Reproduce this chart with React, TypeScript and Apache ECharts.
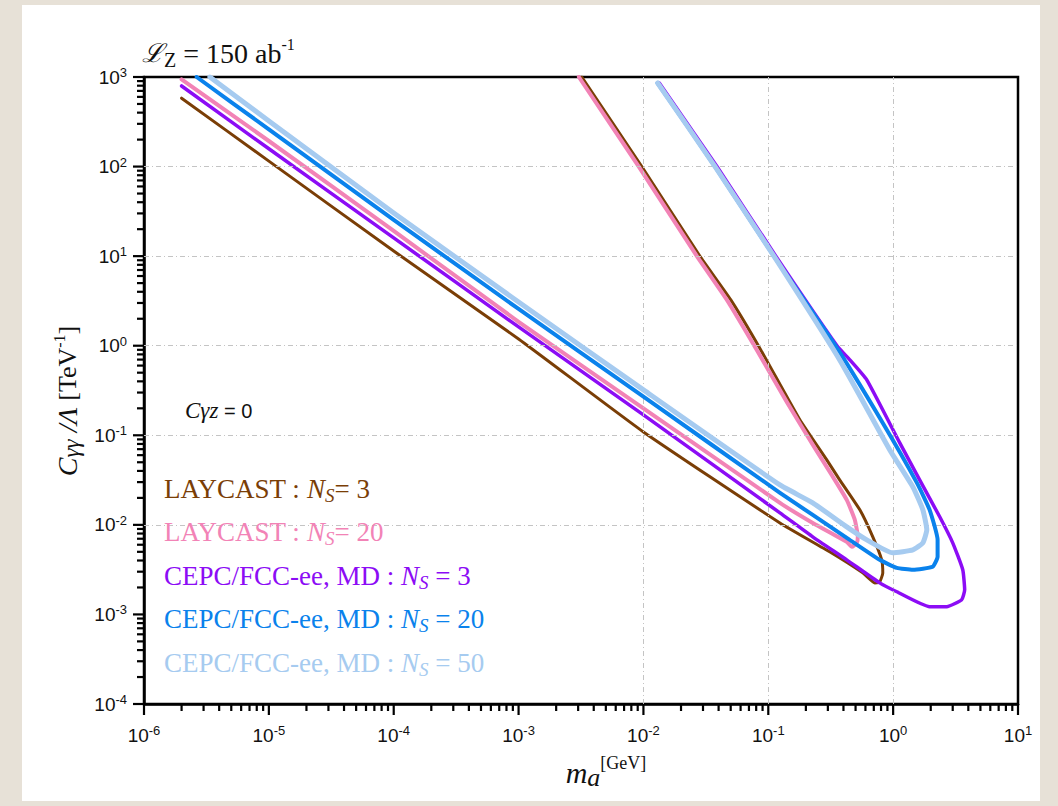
import React, { useEffect, useRef } from 'react';
import * as echarts from 'echarts';

// ---- axis decades ----
const xDecades = [1e-6, 1e-5, 1e-4, 1e-3, 1e-2, 1e-1, 1, 10];
const yDecades = [1e-4, 1e-3, 1e-2, 1e-1, 1, 10, 100, 1000];

// ---- series data: [m_a (GeV), C_gg/Lambda (TeV^-1)] ----
const laycastNs3: [number, number][] = [
  [2.0e-6, 580], [1e-5, 115], [1e-4, 11.4], [1e-3, 1.19], [1e-2, 0.109],
  [0.124, 0.0105], [0.31, 0.005], [0.571, 0.00291], [0.713, 0.00225], [0.78, 0.0023],
  [0.826, 0.00291], [0.81, 0.00407], [0.687, 0.00735], [0.541, 0.0147], [0.373, 0.0318],
  [0.294, 0.0531], [0.179, 0.149], [0.0871, 0.898], [0.0501, 3.25], [0.0283, 10],
  [0.0097, 100], [0.00321, 1000],
];
const laycastNs20: [number, number][] = [
  [2.0e-6, 940], [1e-5, 193], [1e-4, 19.1], [1e-3, 1.85], [1e-2, 0.2],
  [0.124, 0.0176], [0.227, 0.0105], [0.425, 0.00646], [0.467, 0.00568], [0.512, 0.0063],
  [0.521, 0.00735], [0.493, 0.0114], [0.425, 0.019], [0.322, 0.0361], [0.2355, 0.0723],
  [0.1406, 0.236], [0.0809, 0.898], [0.0466, 3.25], [0.0268, 10], [0.00918, 100], [0.00304, 1000],
];
const cepcNs3: [number, number][] = [
  [2.0e-6, 794], [1e-5, 158], [1e-4, 16.0], [1e-3, 1.62], [1e-2, 0.169],
  [0.124, 0.0136], [0.227, 0.00735], [0.425, 0.00407], [0.78, 0.00225], [1.07, 0.00179],
  [1.96, 0.00122], [2.69, 0.00122], [3.54, 0.00146], [3.74, 0.00188], [3.61, 0.00315],
  [3.0, 0.0063], [2.36, 0.0123], [1.63, 0.0318], [1.13, 0.0822], [0.615, 0.415],
  [0.45, 0.695], [0.355, 1.0], [0.115, 10], [0.0388, 100], [0.0134, 857],
];
const cepcNs20: [number, number][] = [
  [2.64e-6, 1000], [1e-5, 260], [1e-4, 25.4], [1e-3, 2.57], [1e-2, 0.27],
  [0.124, 0.0228], [0.227, 0.0129], [0.425, 0.00716], [0.78, 0.00407], [1.07, 0.00331],
  [1.44, 0.00315], [2.07, 0.0034], [2.27, 0.0044], [2.27, 0.0068], [1.96, 0.0147],
  [1.55, 0.0294], [0.826, 0.137], [0.345, 1.0], [0.111, 10], [0.0375, 100], [0.013, 857],
];
const cepcNs50: [number, number][] = [
  [3.37e-6, 1000], [1e-5, 323], [1e-4, 30.3], [1e-3, 3.08], [1e-2, 0.321],
  [0.124, 0.0279], [0.227, 0.0176], [0.425, 0.0095], [0.615, 0.0068], [0.99, 0.00488],
  [1.44, 0.00526], [1.73, 0.0063], [1.86, 0.0088], [1.73, 0.0147], [1.44, 0.0265],
  [0.94, 0.0687], [0.373, 0.695], [0.111, 10], [0.0375, 100], [0.013, 857],
];

const seriesNames = [
  'LAYCAST : Ns = 3',
  'LAYCAST : Ns = 20',
  'CEPC/FCC-ee, MD : Ns = 3',
  'CEPC/FCC-ee, MD : Ns = 20',
  'CEPC/FCC-ee, MD : Ns = 50',
];
const seriesColors = ['#7a3e06', '#f283b6', '#8c0cf5', '#0a82ec', '#a6cbf0'];
const seriesWidths = [3, 4, 3.5, 4, 5];
const seriesData = [laycastNs3, laycastNs20, cepcNs3, cepcNs20, cepcNs50];

const legendPrefix = ['LAYCAST : ', 'LAYCAST : ', 'CEPC/FCC-ee, MD : ', 'CEPC/FCC-ee, MD : ', 'CEPC/FCC-ee, MD : '];
const legendSuffix = ['= 3', '= 20', ' = 3', ' = 20', ' = 50'];

const SERIF = "'Liberation Serif', 'Times New Roman', serif";
const SANS = "'Liberation Sans', Arial, sans-serif";

function minorValues(decades: number[]) {
  const out: number[] = [];
  for (let i = 0; i < decades.length - 1; i++) {
    for (let k = 2; k <= 9; k++) out.push(decades[i] * k);
  }
  return out;
}

function powLabel(v: number) {
  const e = Math.round(Math.log10(v));
  return `{b|10}{e|${e}}`;
}

const labelRich = {
  b: { fontFamily: SANS, fontSize: 19, color: '#111', lineHeight: 22 },
  e: { fontFamily: SANS, fontSize: 13, color: '#111', lineHeight: 13, verticalAlign: 'top' },
};

export default function App() {
  const ref = useRef<HTMLDivElement>(null);

  useEffect(() => {
    if (!ref.current) return;
    const chart = echarts.init(ref.current, undefined, { renderer: 'svg' });

    const legendGraphics = seriesNames.map((_, i) => {
      const c = seriesColors[i];
      return {
        type: 'text',
        left: 164,
        top: 475 + i * 43.5,
        z: 100,
        style: {
          text: `{a|${legendPrefix[i]}}{n|N}{s|S}{a|${legendSuffix[i]}}`,
          fill: c,
          rich: {
            a: { fontFamily: SERIF, fontSize: 27, fill: c, lineHeight: 32 },
            n: { fontFamily: SERIF, fontSize: 27, fontStyle: 'italic', fill: c, lineHeight: 32 },
            s: { fontFamily: SERIF, fontSize: 19, fontStyle: 'italic', fill: c, lineHeight: 12, verticalAlign: 'bottom' },
          },
        },
      };
    });

    const textGraphics = [
      {
        type: 'text', left: 142, top: 36, z: 100,
        style: {
          text: '{l|ℒ}{z|Z}{t| = 150 ab}{e|-1}',
          rich: {
            l: { fontFamily: "'DejaVu Serif', serif", fontSize: 26, fontStyle: 'italic', fill: '#111', lineHeight: 34 },
            z: { fontFamily: SERIF, fontSize: 20, fill: '#111', lineHeight: 29, verticalAlign: 'bottom' },
            t: { fontFamily: SERIF, fontSize: 28, fill: '#111', lineHeight: 34 },
            e: { fontFamily: SERIF, fontSize: 16, fill: '#111', lineHeight: 18, verticalAlign: 'top' },
          },
        },
      },
      {
        type: 'text', left: 185, top: 399, z: 100,
        style: {
          text: '{i|Cγz}{r| = 0}',
          rich: {
            i: { fontFamily: SERIF, fontSize: 23, fontStyle: 'italic', fill: '#111', lineHeight: 28 },
            r: { fontFamily: SANS, fontSize: 20, fill: '#111', lineHeight: 28 },
          },
        },
      },
      {
        type: 'text', x: 67, y: 401, rotation: Math.PI / 2, z: 100,
        style: {
          text: '{c|C}{s|γγ}{c| /Λ }{n|[TeV}{e|-1}{n|]}',
          align: 'center', verticalAlign: 'middle',
          rich: {
            c: { fontFamily: SERIF, fontSize: 28, fontStyle: 'italic', fill: '#111', lineHeight: 32 },
            s: { fontFamily: SERIF, fontSize: 23, fontStyle: 'italic', fill: '#111', lineHeight: 24, verticalAlign: 'bottom' },
            n: { fontFamily: SERIF, fontSize: 26, fill: '#111', lineHeight: 32 },
            e: { fontFamily: SERIF, fontSize: 16, fill: '#111', lineHeight: 18, verticalAlign: 'top' },
          },
        },
      },
      {
        type: 'text', x: 606, y: 772, z: 100,
        style: {
          text: '{m|m}{a|a}{g|[GeV]}',
          align: 'center', verticalAlign: 'middle',
          rich: {
            m: { fontFamily: SERIF, fontSize: 30, fontStyle: 'italic', fill: '#111', lineHeight: 36 },
            a: { fontFamily: SERIF, fontSize: 26, fontStyle: 'italic', fill: '#111', lineHeight: 24, verticalAlign: 'bottom' },
            g: { fontFamily: SERIF, fontSize: 18, fill: '#111', lineHeight: 30, verticalAlign: 'top' },
          },
        },
      },
      ...legendGraphics,
    ];

    const gridStyle = { color: '#c4c4c4', width: 1, type: [5, 3, 1, 3] };

    chart.setOption({
      animation: false,
      backgroundColor: 'transparent',
      grid: {
        left: 144, right: 40, top: 77, bottom: 102,
        show: true, borderColor: '#000', borderWidth: 2.5,
        outerBoundsMode: 'none',
      },
      xAxis: {
        type: 'log', logBase: 10, min: 1e-6, max: 10,
        position: 'bottom',
        axisLine: { show: true, lineStyle: { color: '#000', width: 2.5 } },
        axisTick: { show: false },
        axisLabel: { margin: 20, formatter: powLabel, rich: labelRich, customValues: xDecades },
        splitLine: { show: false },
      },
      yAxis: {
        type: 'log', logBase: 10, min: 1e-4, max: 1000,
        position: 'left',
        axisLine: { show: true, lineStyle: { color: '#000', width: 2.5 } },
        axisTick: { show: false },
        axisLabel: { margin: 17, formatter: powLabel, rich: labelRich, customValues: yDecades },
        splitLine: { show: false },
      },
      series: [
        {
          name: 'grid',
          type: 'line',
          data: [],
          z: 1,
          silent: true,
          markLine: {
            silent: true,
            symbol: ['none', 'none'],
            label: { show: false },
            lineStyle: gridStyle,
            emphasis: { disabled: true },
            data: [
              ...xDecades.slice(1, -1).map((v) => ({ xAxis: v })),
              ...yDecades.slice(1, -1).map((v) => ({ yAxis: v })),
            ],
          },
        },
        ...seriesData.map((d, i) => ({
          name: seriesNames[i],
          type: 'line',
          data: d,
          showSymbol: false,
          symbol: 'none',
          smooth: 0.15,
          clip: true,
          z: 2 + i,
          lineStyle: { color: seriesColors[i], width: seriesWidths[i], cap: 'round', join: 'round' },
        })),
      ],
      graphic: textGraphics,
    });

    // major and minor ticks placed through the axes' own scales
    const yBase = Number(chart.convertToPixel({ yAxisIndex: 0 }, yDecades[0]));
    const xBase = Number(chart.convertToPixel({ xAxisIndex: 0 }, xDecades[0]));
    const tickGraphics: any[] = [];
    const addX = (v: number, len: number) => {
      const px = Number(chart.convertToPixel({ xAxisIndex: 0 }, v));
      if (isFinite(px)) {
        tickGraphics.push({
          type: 'rect', z: 50, silent: true,
          shape: { x: px - 1.1, y: yBase, width: 2.2, height: len },
          style: { fill: '#000' },
        });
      }
    };
    const addY = (v: number, len: number) => {
      const py = Number(chart.convertToPixel({ yAxisIndex: 0 }, v));
      if (isFinite(py)) {
        tickGraphics.push({
          type: 'rect', z: 50, silent: true,
          shape: { x: xBase - len, y: py - 1.1, width: len, height: 2.2 },
          style: { fill: '#000' },
        });
      }
    };
    minorValues(xDecades).forEach((v) => addX(v, 7));
    minorValues(yDecades).forEach((v) => addY(v, 7));
    xDecades.forEach((v) => addX(v, 11));
    yDecades.forEach((v) => addY(v, 11));
    chart.setOption({ graphic: [...textGraphics, ...tickGraphics] });

    return () => chart.dispose();
  }, []);

  return (
    <div style={{ position: 'fixed', left: 0, top: 0, width: 1058, height: 806, background: '#e7e1d7' }}>
      <div style={{ position: 'absolute', left: 22, top: 5, width: 1018, height: 796, background: '#ffffff' }} />
      <div ref={ref} style={{ position: 'absolute', left: 0, top: 0, width: 1058, height: 806 }} />
    </div>
  );
}
